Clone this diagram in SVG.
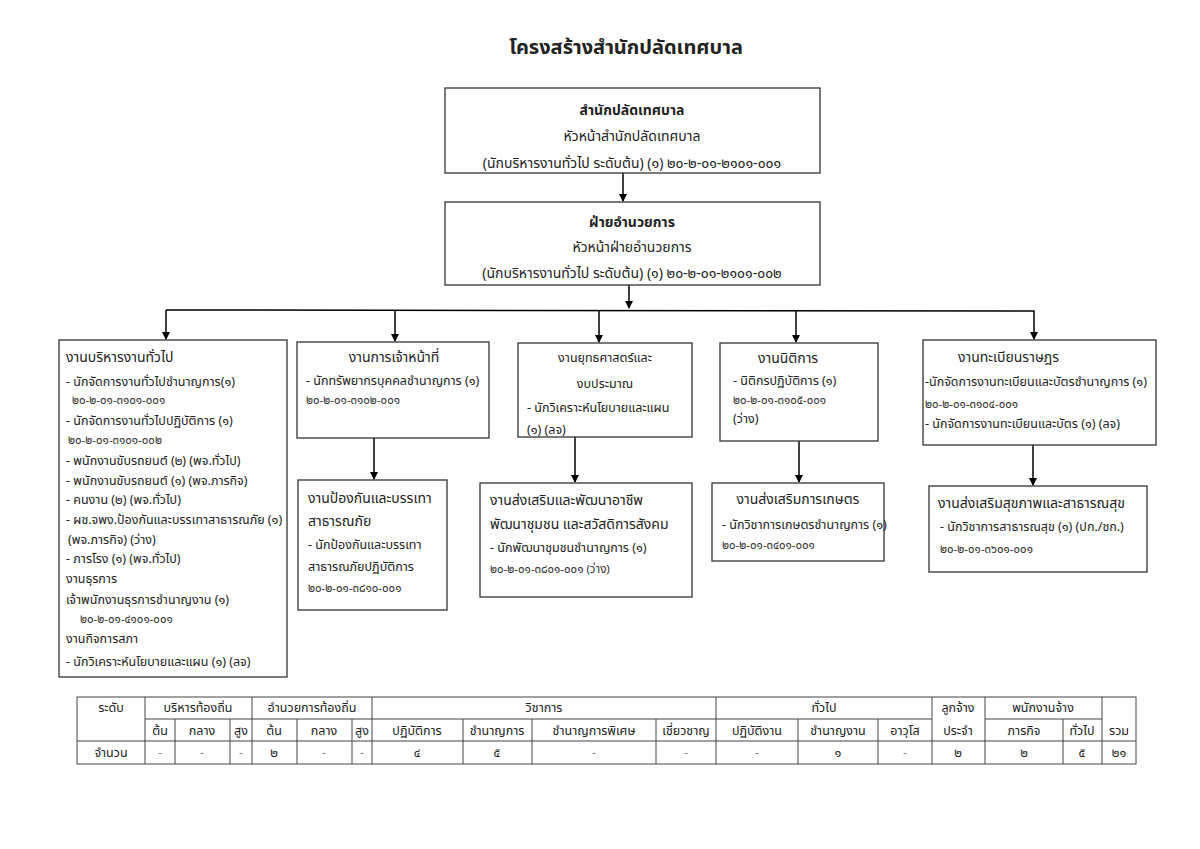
<svg xmlns="http://www.w3.org/2000/svg" width="1200" height="849" viewBox="0 0 1200 849">
<style>
text{font-family:"Noto Sans Thai","Tahoma","DejaVu Sans","Noto Sans",sans-serif;fill:#222;}
.t{font-size:12.5px;}
.h{font-size:14px;}
.b{font-size:14px;font-weight:bold;}
.c{font-size:11.5px;fill:#333;}
.m{text-anchor:middle;}
.box{fill:#fff;stroke:#333;stroke-width:1.3;}
.ln{stroke:#000;stroke-width:1.5;fill:none;}
.tb{stroke:#444;stroke-width:1;fill:none;}
.tt{font-size:12.5px;text-anchor:middle;}
.d{fill:#888;}
</style>
<defs>
<marker id="ah" markerWidth="8" markerHeight="8" refX="7" refY="4" orient="auto" markerUnits="userSpaceOnUse">
<path d="M0,0 L8,4 L0,8 Z" fill="#000"/>
</marker>
</defs>
<rect width="1200" height="849" fill="#fff"/>
<text x="626" y="54" class="m" style="font-size:20px;font-weight:bold">โครงสร้างสำนักปลัดเทศบาล</text>

<g id="connectors">
<line class="ln" x1="623" y1="173" x2="623" y2="201" marker-end="url(#ah)"/>
<line class="ln" x1="629" y1="285" x2="629" y2="308" marker-end="url(#ah)"/>
<polyline class="ln" points="166,310 1034,311 1034,339" marker-end="url(#ah)"/>
<line class="ln" x1="166" y1="310" x2="166" y2="339" marker-end="url(#ah)"/>
<line class="ln" x1="395" y1="310" x2="395" y2="341" marker-end="url(#ah)"/>
<line class="ln" x1="599" y1="310" x2="599" y2="342" marker-end="url(#ah)"/>
<line class="ln" x1="796" y1="311" x2="796" y2="342" marker-end="url(#ah)"/>
<line class="ln" x1="374" y1="438" x2="374" y2="479" marker-end="url(#ah)"/>
<line class="ln" x1="575" y1="437" x2="575" y2="482" marker-end="url(#ah)"/>
<line class="ln" x1="799" y1="441" x2="799" y2="482" marker-end="url(#ah)"/>
<line class="ln" x1="1033" y1="445" x2="1033" y2="485" marker-end="url(#ah)"/>
</g>

<g id="n-office">
<rect class="box" x="445" y="88" width="375" height="85"/>
<text x="632" y="115" class="b m">สำนักปลัดเทศบาล</text>
<text x="632" y="141" class="h m">หัวหน้าสำนักปลัดเทศบาล</text>
<text x="632" y="168" class="h m">(นักบริหารงานทั่วไป  ระดับต้น) (๑)  ๒๐-๒-๐๑-๒๑๐๑-๐๐๑</text>
</g>

<g id="n-admin">
<rect class="box" x="445" y="202" width="375" height="83"/>
<text x="632" y="227" class="b m">ฝ่ายอำนวยการ</text>
<text x="632" y="252" class="h m">หัวหน้าฝ่ายอำนวยการ</text>
<text x="632" y="278" class="h m">(นักบริหารงานทั่วไป  ระดับต้น) (๑) ๒๐-๒-๐๑-๒๑๐๑-๐๐๒</text>
</g>

<g id="n-general">
<rect class="box" x="59" y="340" width="228" height="337"/>
<text x="66" y="362" class="h">งานบริหารงานทั่วไป</text>
<text x="66" y="386" class="t">- นักจัดการงานทั่วไปชำนาญการ(๑)</text>
<text x="72" y="404" class="c">๒๐-๒-๐๑-๓๑๐๑-๐๐๑</text>
<text x="66" y="425" class="t">- นักจัดการงานทั่วไปปฏิบัติการ (๑)</text>
<text x="68" y="444" class="c">๒๐-๒-๐๑-๓๑๐๑-๐๐๒</text>
<text x="66" y="465" class="t">- พนักงานขับรถยนต์ (๒) (พจ.ทั่วไป)</text>
<text x="66" y="485" class="t">- พนักงานขับรถยนต์ (๑) (พจ.ภารกิจ)</text>
<text x="66" y="504" class="t">- คนงาน (๒)  (พจ.ทั่วไป)</text>
<text x="66" y="524" class="t">- ผช.จพง.ป้องกันและบรรเทาสาธารณภัย (๑)</text>
<text x="68" y="544" class="t">(พจ.ภารกิจ) (ว่าง)</text>
<text x="66" y="563" class="t">- ภารโรง  (๑) (พจ.ทั่วไป)</text>
<text x="66" y="583" class="t">งานธุรการ</text>
<text x="66" y="604" class="t">เจ้าพนักงานธุรการชำนาญงาน (๑)</text>
<text x="80" y="623" class="c">๒๐-๒-๐๑-๔๑๐๑-๐๐๑</text>
<text x="66" y="643" class="t">งานกิจการสภา</text>
<text x="66" y="666" class="t">- นักวิเคราะห์นโยบายและแผน (๑) (ลจ)</text>
</g>

<g id="n-personnel">
<rect class="box" x="297" y="342" width="192" height="96"/>
<text x="394" y="362" class="h m">งานการเจ้าหน้าที่</text>
<text x="306" y="385" class="t">- นักทรัพยากรบุคคลชำนาญการ  (๑)</text>
<text x="306" y="404" class="c">๒๐-๒-๐๑-๓๑๐๒-๐๐๑</text>
</g>

<g id="n-disaster">
<rect class="box" x="298" y="480" width="149" height="130"/>
<text x="308" y="503" class="h">งานป้องกันและบรรเทา</text>
<text x="308" y="526" class="h">สาธารณภัย</text>
<text x="308" y="549" class="t">- นักป้องกันและบรรเทา</text>
<text x="308" y="571" class="t">สาธารณภัยปฏิบัติการ</text>
<text x="308" y="592" class="c">๒๐-๒-๐๑-๓๘๑๐-๐๐๑</text>
</g>

<g id="n-strategy">
<rect class="box" x="518" y="343" width="174" height="94"/>
<text x="605" y="362" class="t m">งานยุทธศาสตร์และ</text>
<text x="605" y="388" class="t m">งบประมาณ</text>
<text x="527" y="412" class="t">- นักวิเคราะห์นโยบายและแผน</text>
<text x="527" y="434" class="t">(๑) (ลจ)</text>
</g>

<g id="n-community">
<rect class="box" x="480" y="483" width="212" height="114"/>
<text x="490" y="505" class="h">งานส่งเสริมและพัฒนาอาชีพ</text>
<text x="490" y="529" class="h">พัฒนาชุมชน และสวัสดิการสังคม</text>
<text x="490" y="552" class="t">- นักพัฒนาชุมชนชำนาญการ (๑)</text>
<text x="490" y="573" class="c">๒๐-๒-๐๑-๓๘๐๑-๐๐๑   (ว่าง)</text>
</g>

<g id="n-legal">
<rect class="box" x="720" y="343" width="158" height="98"/>
<text x="758" y="363" class="h">งานนิติการ</text>
<text x="733" y="385" class="t">- นิติกรปฏิบัติการ (๑)</text>
<text x="733" y="404" class="c">๒๐-๒-๐๑-๓๑๐๕-๐๐๑</text>
<text x="733" y="423" class="t">(ว่าง)</text>
</g>

<g id="n-agri">
<rect class="box" x="712" y="483" width="172" height="78"/>
<text x="798" y="504" class="h m">งานส่งเสริมการเกษตร</text>
<text x="722" y="529" class="t">- นักวิชาการเกษตรชำนาญการ (๑)</text>
<text x="722" y="549" class="c">๒๐-๒-๐๑-๓๔๐๑-๐๐๑</text>
</g>

<g id="n-registry">
<rect class="box" x="923" y="340" width="233" height="105"/>
<text x="958" y="362" class="h">งานทะเบียนราษฎร</text>
<text x="925" y="386" class="t">-นักจัดการงานทะเบียนและบัตรชำนาญการ (๑)</text>
<text x="925" y="408" class="c">๒๐-๒-๐๑-๓๑๐๔-๐๐๑</text>
<text x="925" y="428" class="t">- นักจัดการงานทะเบียนและบัตร (๑) (ลจ)</text>
</g>

<g id="n-health">
<rect class="box" x="929" y="486" width="218" height="86"/>
<text x="938" y="508" class="h">งานส่งเสริมสุขภาพและสาธารณสุข</text>
<text x="940" y="531" class="t">- นักวิชาการสาธารณสุข (๑) (ปก./ชก.)</text>
<text x="940" y="553" class="c">๒๐-๒-๐๑-๓๖๐๑-๐๐๑</text>
</g>

<g id="table">
<rect class="tb" x="77" y="697" width="1059" height="67"/>
<path class="tb" d="M145,719 H932 M985,719 H1102 M77,741 H1136
M145,697 V764 M252,697 V764 M372,697 V764 M716,697 V764 M932,697 V764 M985,697 V764 M1102,697 V764
M175,719 V764 M230,719 V764 M297,719 V764 M352,719 V764 M463,719 V764 M532,719 V764 M656,719 V764 M798,719 V764 M878,719 V764 M1063,719 V764"/>
<text x="111" y="712" class="tt">ระดับ</text>
<text x="198" y="712" class="tt">บริหารท้องถิ่น</text>
<text x="312" y="712" class="tt">อำนวยการท้องถิ่น</text>
<text x="544" y="712" class="tt">วิชาการ</text>
<text x="824" y="712" class="tt">ทั่วไป</text>
<text x="958" y="712" class="tt">ลูกจ้าง</text>
<text x="1043" y="712" class="tt">พนักงานจ้าง</text>
<text x="160" y="735" class="tt">ต้น</text>
<text x="202" y="735" class="tt">กลาง</text>
<text x="241" y="735" class="tt">สูง</text>
<text x="274" y="735" class="tt">ต้น</text>
<text x="324" y="735" class="tt">กลาง</text>
<text x="362" y="735" class="tt">สูง</text>
<text x="417" y="735" class="tt">ปฏิบัติการ</text>
<text x="497" y="735" class="tt">ชำนาญการ</text>
<text x="594" y="735" class="tt">ชำนาญการพิเศษ</text>
<text x="686" y="735" class="tt">เชี่ยวชาญ</text>
<text x="757" y="735" class="tt">ปฏิบัติงาน</text>
<text x="838" y="735" class="tt">ชำนาญงาน</text>
<text x="905" y="735" class="tt">อาวุโส</text>
<text x="958" y="735" class="tt">ประจำ</text>
<text x="1024" y="735" class="tt">ภารกิจ</text>
<text x="1082" y="735" class="tt">ทั่วไป</text>
<text x="1119" y="735" class="tt">รวม</text>
<text x="111" y="757" class="tt">จำนวน</text>
<text x="160" y="757" class="tt d">-</text>
<text x="202" y="757" class="tt d">-</text>
<text x="241" y="757" class="tt d">-</text>
<text x="274" y="757" class="tt">๒</text>
<text x="324" y="757" class="tt d">-</text>
<text x="362" y="757" class="tt d">-</text>
<text x="417" y="757" class="tt">๔</text>
<text x="497" y="757" class="tt">๕</text>
<text x="594" y="757" class="tt d">-</text>
<text x="686" y="757" class="tt d">-</text>
<text x="757" y="757" class="tt d">-</text>
<text x="838" y="757" class="tt">๑</text>
<text x="905" y="757" class="tt d">-</text>
<text x="958" y="757" class="tt">๒</text>
<text x="1024" y="757" class="tt">๒</text>
<text x="1082" y="757" class="tt">๕</text>
<text x="1119" y="757" class="tt">๒๑</text>
</g>
</svg>
